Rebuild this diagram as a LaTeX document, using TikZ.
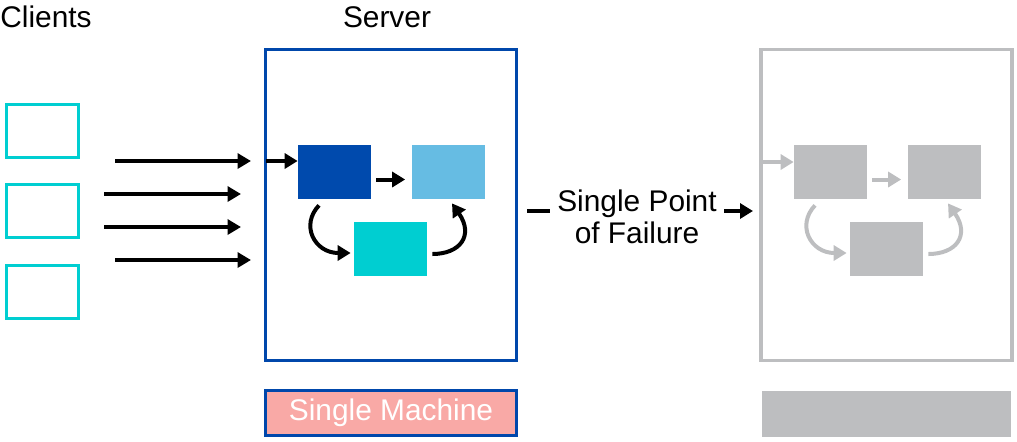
\documentclass[tikz,border=0pt]{standalone}
\usepackage{fontspec}
\setmainfont{Liberation Sans}
\usepackage{tikz}
\usepackage{xcolor}
\usetikzlibrary{arrows.meta}
\definecolor{srvblue}{HTML}{0047AB}
\definecolor{darkbox}{HTML}{004AAD}
\definecolor{lightbox}{HTML}{66BCE3}
\definecolor{tealbox}{HTML}{00CED1}
\definecolor{ghost}{HTML}{BDBEC0}
\definecolor{pinkbox}{HTML}{F9A9A6}

\begin{document}
\begin{tikzpicture}[x=0.02cm, y=-0.02cm,
    txt/.style={font=\fontsize{17pt}{18pt}\selectfont, inner sep=0pt},
    client/.style={draw=tealbox, line width=0.075cm, minimum width=1.44cm, minimum height=1.06cm, inner sep=0pt},
    block/.style={minimum width=1.46cm, minimum height=1.08cm, inner sep=0pt},
    big/.style={line width=0.085cm, -{Triangle[length=0.27cm, width=0.3cm]}},
    small/.style={line width=0.08cm, -{Triangle[length=0.26cm, width=0.3cm]}}]
    \useasboundingbox (0, 0) rectangle (1017, 441);
    % labels on top
    \node[txt, anchor=west] (clients) at (0, 17) {Clients};
    \node[txt] (servertxt) at (387, 17) {Server};
    % clients
    \node[client] (c1) at (42.5, 131) {};
    \node[client] (c2) at (42.5, 211) {};
    \node[client] (c3) at (42.5, 292) {};
    % requests
    \coordinate (a1) at (115, 161);
    \coordinate (b1) at (251, 161);
    \coordinate (a2) at (104, 194);
    \coordinate (b2) at (241, 194);
    \coordinate (a3) at (104, 227);
    \coordinate (b3) at (241, 227);
    \coordinate (a4) at (115, 260);
    \coordinate (b4) at (251, 260);
    \draw[big] (a1) -- (b1);
    \draw[big] (a2) -- (b2);
    \draw[big] (a3) -- (b3);
    \draw[big] (a4) -- (b4);
    % server
    \node[draw=srvblue, line width=0.075cm, minimum width=5.02cm, minimum height=6.22cm, inner sep=0pt] (server) at (391, 205) {};
    \node[block, fill=darkbox] (dark) at (334.5, 172) {};
    \node[block, fill=lightbox] (light) at (448, 172) {};
    \node[block, fill=tealbox] (teal) at (390.5, 249) {};
    \coordinate (in1) at (266, 161);
    \draw[small] (in1) -- (dark.west |- in1);
    \draw[small] ([xshift=0.1cm, yshift=-0.15cm]dark.east) -- ([xshift=-0.12cm, yshift=-0.15cm]light.west);
    \draw[small] ([xshift=-0.31cm, yshift=-0.12cm]dark.south) .. controls +(-19, 20) and +(-36, 0) .. ([xshift=-0.06cm, yshift=-0.08cm]teal.west);
    \draw[small] ([xshift=0.1cm, yshift=-0.1cm]teal.east) .. controls +(28, 0) and +(22, 32) .. ([xshift=0.08cm, yshift=-0.08cm]light.south);
    % failure
    \node[txt, align=center] (spof) at (637, 217) {Single Point\\of Failure};
    \coordinate (f1) at (527, 211);
    \coordinate (f2) at (550, 211);
    \coordinate (f3) at (724, 211);
    \coordinate (f4) at (753, 211);
    \draw[line width=0.08cm] (f1) -- (f2);
    \draw[small] (f3) -- (f4);
    % failed server
    \node[draw=ghost, line width=0.075cm, minimum width=5.02cm, minimum height=6.22cm, inner sep=0pt] (gserver) at (886.5, 205) {};
    \node[block, fill=ghost] (gdark) at (830.5, 172) {};
    \node[block, fill=ghost] (glight) at (944, 172) {};
    \node[block, fill=ghost] (gteal) at (886.5, 249) {};
    \coordinate (gin1) at (763, 162);
    \draw[small, ghost] (gin1) -- (gdark.west |- gin1);
    \draw[small, ghost] ([xshift=0.1cm, yshift=-0.15cm]gdark.east) -- ([xshift=-0.12cm, yshift=-0.15cm]glight.west);
    \draw[small, ghost] ([xshift=-0.31cm, yshift=-0.12cm]gdark.south) .. controls +(-19, 20) and +(-36, 0) .. ([xshift=-0.06cm, yshift=-0.08cm]gteal.west);
    \draw[small, ghost] ([xshift=0.1cm, yshift=-0.1cm]gteal.east) .. controls +(28, 0) and +(22, 32) .. ([xshift=0.08cm, yshift=-0.08cm]glight.south);
    % machines
    \node[draw=srvblue, fill=pinkbox, line width=0.075cm, minimum width=5.02cm, minimum height=0.9cm, inner sep=0pt, text=white, font=\fontsize{17pt}{18pt}\selectfont] (machine) at (391, 413) {Single Machine};
    \node[fill=ghost, minimum width=4.98cm, minimum height=0.92cm, inner sep=0pt] (gmachine) at (886.5, 414) {};
\end{tikzpicture}
\end{document}
